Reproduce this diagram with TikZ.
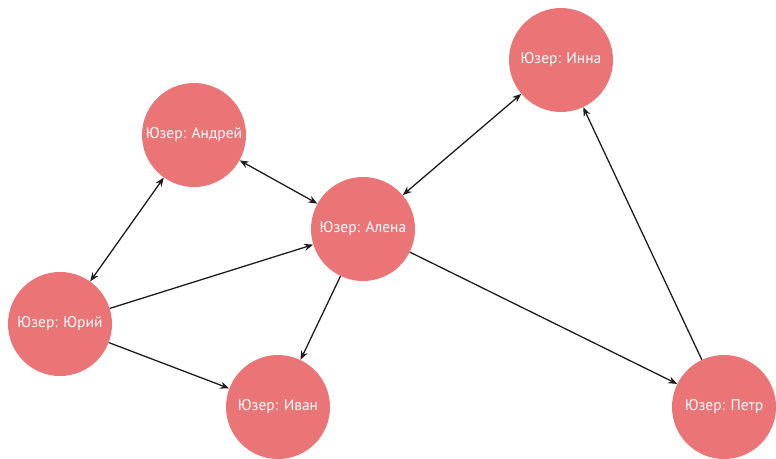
\documentclass[tikz,border=0pt]{standalone}
\usepackage{fontspec}
\setmainfont{PT Sans}
\usetikzlibrary{arrows.meta}
\definecolor{usercol}{RGB}{235,116,118}
\definecolor{linkcol}{RGB}{30,30,30}
\tikzset{
  user/.style={circle, fill=usercol, draw=none, minimum size=104pt, inner sep=0pt,
    text=white, font=\fontsize{15.5}{17}\selectfont},
  tip/.style={Stealth[length=9pt,width=7pt]},
  link/.style={draw=linkcol, line width=1.3pt, -{Stealth[length=9pt,width=7pt]}},
  bilink/.style={draw=linkcol, line width=1.3pt, {Stealth[length=9pt,width=7pt]}-{Stealth[length=9pt,width=7pt]}}
}
\begin{document}
\begin{tikzpicture}[x=1pt, y=-1pt]
  \useasboundingbox (0,0) rectangle (776,458);
  \node[user] (andrey) at (194,135) {Юзер: Андрей};
  \node[user] (inna)   at (561,60)  {Юзер: Инна};
  \node[user] (alena)  at (363,229) {Юзер: Алена};
  \node[user] (yuriy)  at (60,324)  {Юзер: Юрий};
  \node[user] (ivan)   at (278,407) {Юзер: Иван};
  \node[user] (petr)   at (724,407) {Юзер: Петр};

  \draw[bilink] (andrey) -- (yuriy);
  \draw[bilink] (andrey) -- (alena);
  \draw[bilink] (inna) -- (alena);
  \draw[link] (yuriy) -- (alena);
  \draw[link] (yuriy) -- (ivan);
  \draw[link] (alena) -- (ivan);
  \draw[link] (alena) -- (petr);
  \draw[link] (petr) -- (inna);
\end{tikzpicture}
\end{document}
